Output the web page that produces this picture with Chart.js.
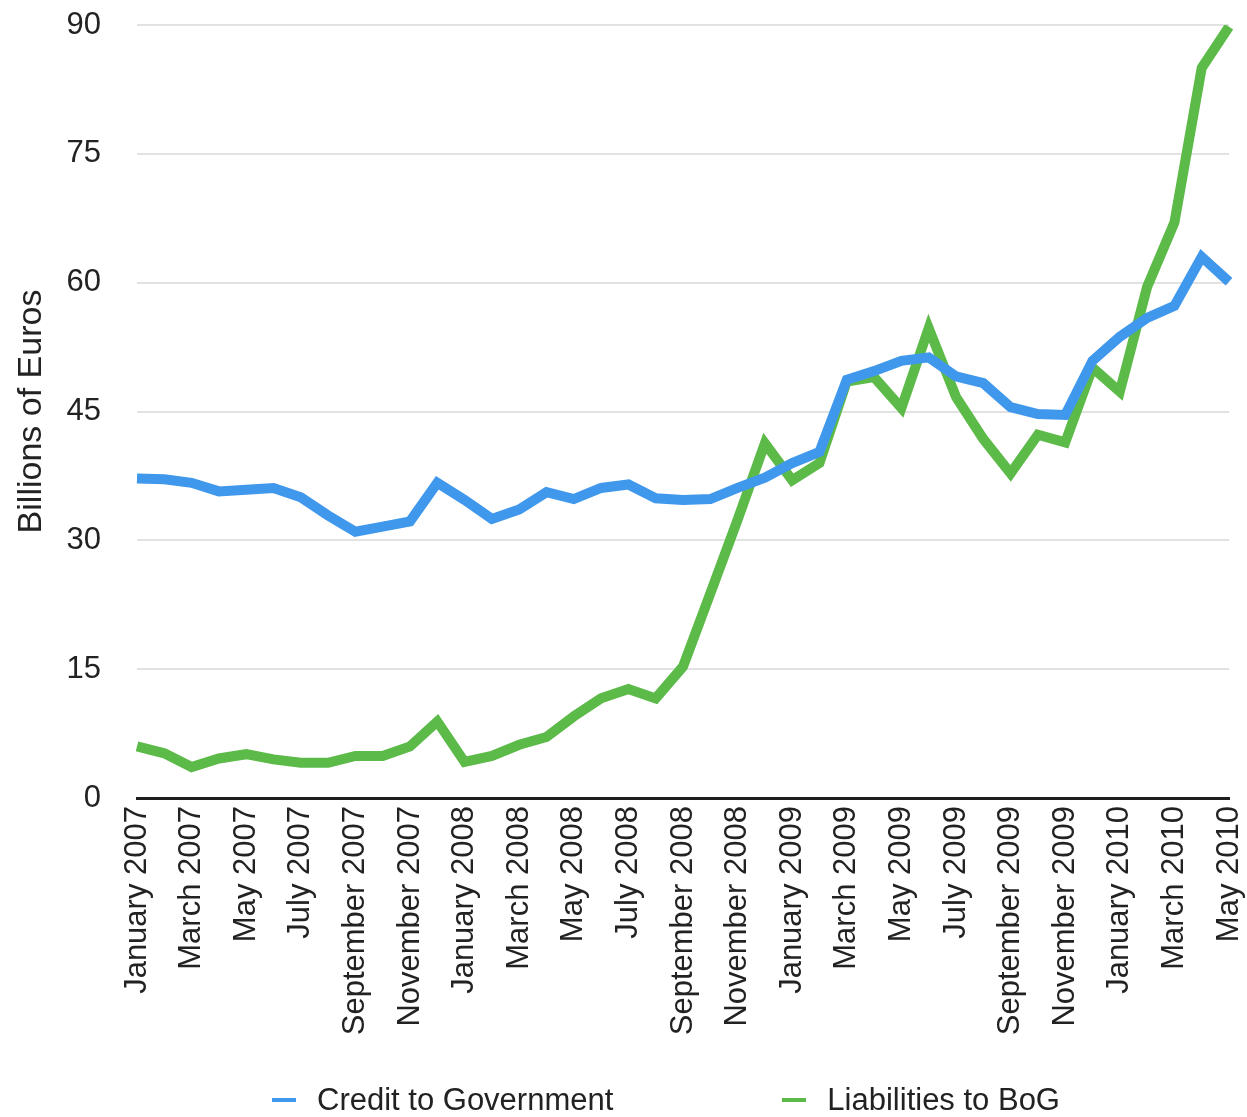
<!DOCTYPE html>
<html>
<head>
<meta charset="utf-8">
<script src="https://cdn.jsdelivr.net/npm/chart.js"></script>
<style>
  html, body { margin: 0; padding: 0; background: #fff; }
  .wrap { position: relative; width: 1247px; height: 1117px; }
  canvas { display: block; }
  #legend {
    position: absolute; left: 272px; top: 1084px;
    display: flex; gap: 169px;
    font-family: 'Liberation Sans', Arial, Helvetica, sans-serif;
    font-size: 31px; line-height: 31px; color: #222;
  }
  #legend .item { display: flex; align-items: center; white-space: nowrap; }
  #legend .mark { display: inline-block; width: 24px; height: 4px; margin-right: 21px; }
</style>
</head>
<body>
<div class="wrap">
  <canvas id="bankChart" width="1247" height="1117"></canvas>
  <div id="legend"></div>
</div>
<script>
// Meses (enero 2007 - mayo 2010)
const months = [
    'January 2007', 'February 2007', 'March 2007', 'April 2007', 'May 2007', 'June 2007',
    'July 2007', 'August 2007', 'September 2007', 'October 2007', 'November 2007', 'December 2007',
    'January 2008', 'February 2008', 'March 2008', 'April 2008', 'May 2008', 'June 2008',
    'July 2008', 'August 2008', 'September 2008', 'October 2008', 'November 2008', 'December 2008',
    'January 2009', 'February 2009', 'March 2009', 'April 2009', 'May 2009', 'June 2009',
    'July 2009', 'August 2009', 'September 2009', 'October 2009', 'November 2009', 'December 2009',
    'January 2010', 'February 2010', 'March 2010', 'April 2010', 'May 2010'
];

// Miles de millones de euros
const creditToGovernment = [
    37.2, 37.1, 36.7, 35.7, 35.9, 36.1, 35.0, 32.9, 31.0, 31.6, 32.2, 36.7,
    34.7, 32.5, 33.6, 35.6, 34.8, 36.1, 36.5, 34.9, 34.7, 34.8, 36.1, 37.3,
    39.0, 40.3, 48.7, 49.7, 50.9, 51.3, 49.1, 48.3, 45.5, 44.7, 44.6, 50.9,
    53.7, 55.9, 57.3, 63.0, 60.1
];

const liabilitiesToBoG = [
    6.0, 5.2, 3.6, 4.6, 5.1, 4.5, 4.1, 4.1, 4.9, 4.9, 6.0, 8.9,
    4.2, 4.9, 6.2, 7.1, 9.5, 11.6, 12.7, 11.6, 15.3, 23.8, 32.4, 41.3,
    37.0, 39.0, 48.5, 49.0, 45.4, 54.7, 46.7, 41.8, 37.8, 42.3, 41.4, 50.1,
    47.3, 59.5, 67.0, 85.0, 89.8
];

const yTicks = [0, 15, 30, 45, 60, 75, 90];

const BLUE = '#4098ec';
const GREEN = '#5cba48';
const FONT = "'Liberation Sans', Arial, Helvetica, sans-serif";

const chart = new Chart(document.getElementById('bankChart'), {
    type: 'line',
    data: {
        labels: months,
        datasets: [{
            label: 'Credit to Government',
            data: creditToGovernment,
            borderColor: BLUE,
            backgroundColor: BLUE,
            borderWidth: 10,
            pointRadius: 0,
            tension: 0
        }, {
            label: 'Liabilities to BoG',
            data: liabilitiesToBoG,
            borderColor: GREEN,
            backgroundColor: GREEN,
            borderWidth: 10,
            pointRadius: 0,
            tension: 0
        }]
    },
    options: {
        responsive: false,
        animation: false,
        devicePixelRatio: 1,
        layout: {
            padding: { top: 25, right: 18, bottom: 0, left: 0 }
        },
        plugins: {
            tooltip: { enabled: false },
            legend: { display: false }
        },
        scales: {
            x: {
                grid: { display: false, drawTicks: false },
                border: { display: true, color: '#1e1e1e', width: 3 },
                ticks: {
                    autoSkip: false,
                    minRotation: 90,
                    maxRotation: 90,
                    padding: 8,
                    color: '#222',
                    font: { family: FONT, size: 31 },
                    callback: function(value, index) {
                        return index % 2 === 0 ? months[index] : '';
                    }
                },
                // espacio fijo para las etiquetas giradas y la leyenda
                afterFit: function(scale) {
                    scale.height = 319;
                    scale.paddingLeft = 0;
                    scale.paddingRight = 0;
                }
            },
            y: {
                min: 0,
                max: 90,
                afterBuildTicks: function(scale) {
                    scale.ticks = yTicks.map(v => ({ value: v }));
                },
                grid: {
                    color: '#e2e2e2',
                    lineWidth: 2,
                    drawTicks: false
                },
                border: { display: false },
                ticks: {
                    padding: 36,
                    color: '#222',
                    font: { family: FONT, size: 31 }
                },
                title: {
                    display: true,
                    text: 'Billions of Euros',
                    color: '#222',
                    font: { family: FONT, size: 34 },
                    padding: { top: 11, bottom: 0 }
                },
                afterFit: function(scale) {
                    scale.width = 137;
                    scale.paddingTop = 0;
                    scale.paddingBottom = 0;
                }
            }
        }
    }
});

// Leyenda en HTML (más separación entre elementos)
const legendEl = document.getElementById('legend');
chart.data.datasets.forEach(ds => {
    const item = document.createElement('div');
    item.className = 'item';
    const mark = document.createElement('span');
    mark.className = 'mark';
    mark.style.background = ds.borderColor;
    item.appendChild(mark);
    item.appendChild(document.createTextNode(ds.label));
    legendEl.appendChild(item);
});
</script>
</body>
</html>
